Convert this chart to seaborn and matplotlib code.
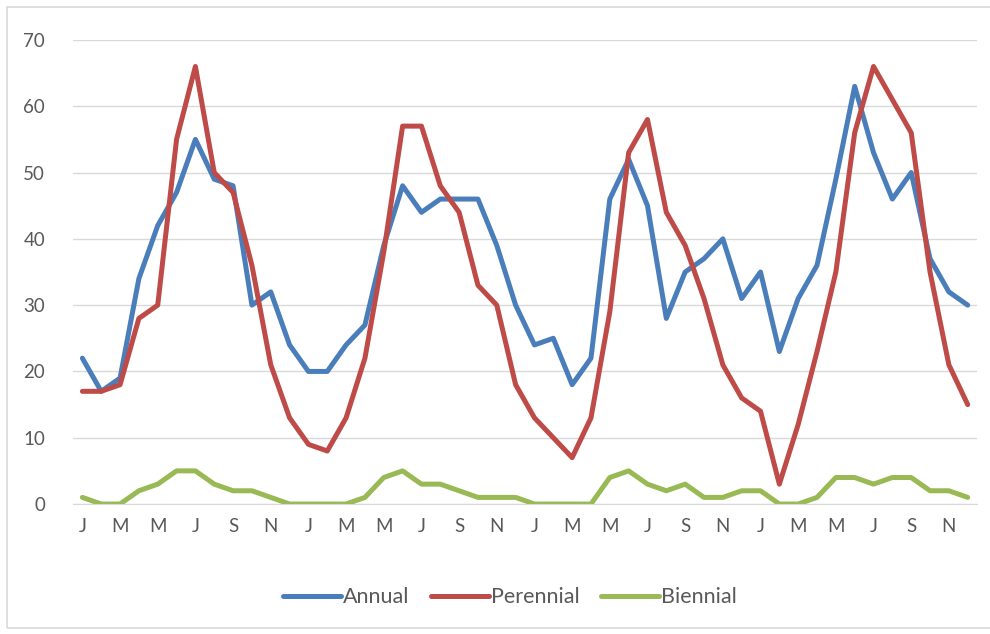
import pandas as pd
import numpy as np
import matplotlib.pyplot as plt
import seaborn as sns
from matplotlib.patches import Rectangle

# valores (4 anos, mensal)
annual = [22, 17, 19, 34, 42, 47, 55, 49, 48, 30, 32, 24,
          20, 20, 24, 27, 39, 48, 44, 46, 46, 46, 39, 30,
          24, 25, 18, 22, 46, 52, 45, 28, 35, 37, 40, 31,
          35, 23, 31, 36, 49, 63, 53, 46, 50, 37, 32, 30]
perennial = [17, 17, 18, 28, 30, 55, 66, 50, 47, 36, 21, 13,
             9, 8, 13, 22, 38, 57, 57, 48, 44, 33, 30, 18,
             13, 10, 7, 13, 29, 53, 58, 44, 39, 31, 21, 16,
             14, 3, 12, 23, 35, 56, 66, 61, 56, 35, 21, 15]
biennial = [1, 0, 0, 2, 3, 5, 5, 3, 2, 2, 1, 0,
            0, 0, 0, 1, 4, 5, 3, 3, 2, 1, 1, 1,
            0, 0, 0, 0, 4, 5, 3, 2, 3, 1, 1, 2,
            2, 0, 0, 1, 4, 4, 3, 4, 4, 2, 2, 1]
month_letters = ['J', 'F', 'M', 'A', 'M', 'J', 'J', 'A', 'S', 'O', 'N', 'D']

series = ['Annual', 'Perennial', 'Biennial']
colors = ['#4A7EBB', '#BE4B48', '#98B954']

n = len(annual)
df = pd.DataFrame({
    'mes': np.tile(np.arange(n), 3),
    'valor': annual + perennial + biennial,
    'tipo': np.repeat(series, n),
})

sns.set_style('white')
plt.rcParams['font.family'] = ['Lato', 'DejaVu Sans']

fig = plt.figure(figsize=(9.9, 6.34), dpi=100)
ax = fig.add_axes([0.0737, 0.205, 0.9133, 0.732])

sns.lineplot(data=df, x='mes', y='valor', hue='tipo', palette=colors,
             linewidth=3.6, ax=ax, legend=False)

ax.set_xlim(-0.5, n - 0.5)
ax.set_ylim(0, 70)
ax.set_yticks(range(0, 71, 10))
ticks = list(range(0, n, 2))
ax.set_xticks(ticks)
ax.set_xticklabels([month_letters[i % 12] for i in ticks])
ax.yaxis.grid(True, color='#D9D9D9', linewidth=1)
ax.set_axisbelow(True)
for s in ['top', 'right', 'left']:
    ax.spines[s].set_visible(False)
ax.spines['bottom'].set_color('#D9D9D9')
ax.tick_params(axis='both', length=0, labelsize=13.5, colors='#595959')
ax.tick_params(axis='x', pad=10)
ax.tick_params(axis='y', pad=20)
ax.set_xlabel('')
ax.set_ylabel('')

handles = [plt.Line2D([0], [0], color=c, linewidth=3.6) for c in colors]
fig.legend(handles, series, loc='center', bbox_to_anchor=(0.515, 0.058), ncol=3,
           frameon=False, fontsize=15.5, handlelength=2.7, handletextpad=0.08,
           columnspacing=1.0, labelcolor='#595959')

fig.patches.append(Rectangle((7 / 990, 6 / 634), 1.2, 621 / 634, transform=fig.transFigure,
                             fill=False, edgecolor='#D9D9D9', linewidth=1.2))

fig.savefig('out.png', dpi=100)
